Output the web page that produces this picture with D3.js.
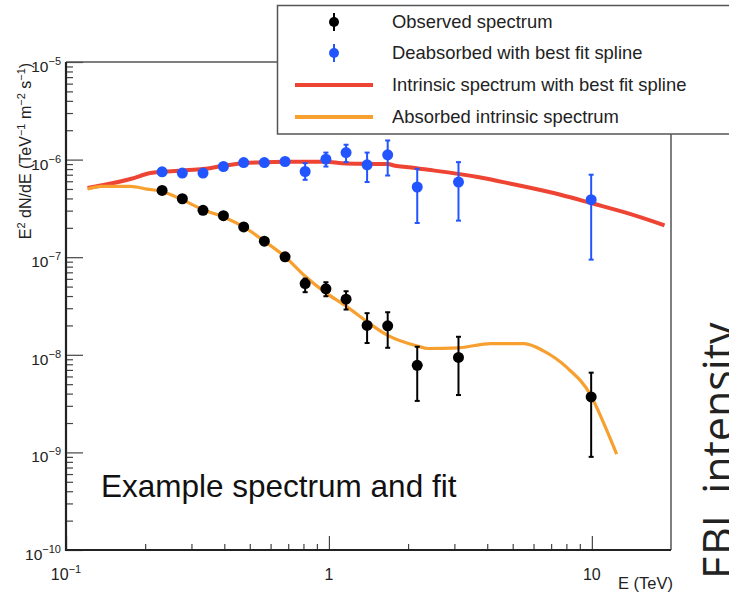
<!DOCTYPE html>
<html><head><meta charset="utf-8">
<script src="https://cdn.jsdelivr.net/npm/d3@7"></script>
<style>body{margin:0;background:#fff;overflow:hidden}svg{display:block;font-family:"Liberation Sans",Arial,sans-serif}</style>
</head><body><svg id="c" width="729" height="597"></svg>
<script>
// ---- data ----
const energies = [0.232,0.277,0.332,0.397,0.474,0.568,0.681,0.812,0.974,1.162,1.397,1.673,2.167,3.11,9.94];
const observed = [4.83e-7,3.97e-7,3.02e-7,2.66e-7,2.04e-7,1.46e-7,1.01e-7,5.37e-8,4.74e-8,3.71e-8,2.0e-8,1.98e-8,7.8e-9,9.4e-9,3.7e-9];
const observedLo = [4.6e-7,3.8e-7,2.9e-7,2.55e-7,1.95e-7,1.4e-7,0.97e-7,4.38e-8,3.98e-8,2.91e-8,1.32e-8,1.18e-8,3.37e-9,3.87e-9,9.0e-10];
const observedHi = [5.1e-7,4.15e-7,3.15e-7,2.78e-7,2.13e-7,1.52e-7,1.05e-7,6.04e-8,5.54e-8,4.48e-8,2.67e-8,2.73e-8,1.21e-8,1.53e-8,6.56e-9];
const deabsorbed = [7.5e-7,7.28e-7,7.28e-7,8.5e-7,9.33e-7,9.33e-7,9.56e-7,7.55e-7,1.01e-6,1.18e-6,8.85e-7,1.12e-6,5.24e-7,5.89e-7,3.88e-7];
const deabsorbedLo = [7.1e-7,6.9e-7,6.9e-7,8.1e-7,8.9e-7,8.9e-7,9.1e-7,6.21e-7,8.49e-7,9.42e-7,5.89e-7,6.87e-7,2.24e-7,2.37e-7,9.44e-8];
const deabsorbedHi = [7.9e-7,7.7e-7,7.7e-7,8.9e-7,9.8e-7,9.8e-7,1.0e-6,9.2e-7,1.18e-6,1.42e-6,1.18e-6,1.57e-6,8.05e-7,9.42e-7,7.0e-7];
const intrinsicE = [0.1208,0.1759,0.2094,0.2317,0.277,0.332,0.397,0.474,0.568,0.681,0.812,0.974,1.122,1.40,1.674,1.785,2.004,2.385,3.68,4.92,7.60,10.15,13.56,18.9];
const intrinsicY = [5.11e-7,6.32e-7,7.28e-7,7.5e-7,7.74e-7,8.0e-7,8.65e-7,9.2e-7,9.42e-7,9.5e-7,9.5e-7,9.5e-7,9.2e-7,9.06e-7,9.0e-7,8.65e-7,8.37e-7,7.87e-7,6.62e-7,5.66e-7,4.37e-7,3.53e-7,2.84e-7,2.12e-7];
const absorbedE = [0.1208,0.1355,0.1759,0.2033,0.2317,0.277,0.332,0.397,0.474,0.568,0.681,0.812,0.974,1.162,1.40,1.674,2.167,2.385,3.11,4.13,5.53,6.57,8.05,9.94,11.07,12.43];
const absorbedY = [4.99e-7,5.31e-7,5.31e-7,4.99e-7,4.72e-7,3.88e-7,3.07e-7,2.58e-7,2.04e-7,1.46e-7,1.01e-7,6.38e-8,4.31e-8,3.15e-8,2.17e-8,1.58e-8,1.23e-8,1.16e-8,1.18e-8,1.3e-8,1.3e-8,1.09e-8,7.38e-9,3.79e-9,2.02e-9,9.6e-10];
const yMajorTicks = [1e-10,1e-9,1e-8,1e-7,1e-6,1e-5];
const yExponents = ["−10","−9","−8","−7","−6","−5"];
const xMajorTicks = [0.1,1,10];
const xTickBase = ["10","1","10"];
const xTickExp = ["−1","",""];
const legendLabels = ["Observed spectrum","Deabsorbed with best fit spline","Intrinsic spectrum with best fit spline","Absorbed intrinsic spectrum"];

// ---- layout ----
const L=66,R=671,T=62,B=550;
const x=d3.scaleLog().domain([0.1,20]).range([L,R]);
const y=d3.scaleLog().domain([1e-10,1e-5]).range([B,T]);
const svg=d3.select("#c");
const C={red:"#ee4433",orange:"#f7a030",blue:"#2255ff",black:"#000"};

// minor ticks
const yMinor=[];for(let e=-10;e<-5;e++)for(let k=2;k<=9;k++)yMinor.push(k*Math.pow(10,e));
const xMinor=[];for(let e=-1;e<2;e++)for(let k=2;k<=9;k++){const v=k*Math.pow(10,e);if(v<20)xMinor.push(v);}

const gy=svg.append("g").attr("transform",`translate(${L},0)`);
gy.append("g").call(d3.axisLeft(y).tickValues(yMinor).tickSize(-7).tickFormat(""));
gy.append("g").call(d3.axisLeft(y).tickValues(yMajorTicks).tickSize(-17).tickFormat(""));
gy.selectAll(".domain").remove();
gy.selectAll(".tick line").attr("stroke","#444").attr("stroke-width",1.2);
const gx=svg.append("g").attr("transform",`translate(0,${B})`);
gx.append("g").call(d3.axisBottom(x).tickValues(xMinor).tickSize(-6).tickFormat(""));
gx.append("g").call(d3.axisBottom(x).tickValues(xMajorTicks).tickSize(-14).tickFormat(""));
gx.selectAll(".domain").remove();
gx.selectAll(".tick line").attr("stroke","#444").attr("stroke-width",1.2);

// frame
svg.append("line").attr("x1",L).attr("x2",R).attr("y1",T).attr("y2",T).attr("stroke","#555").attr("stroke-width",1.5);
svg.append("line").attr("x1",R).attr("x2",R).attr("y1",T).attr("y2",B).attr("stroke","#555").attr("stroke-width",1.5);
svg.append("line").attr("x1",L).attr("x2",L).attr("y1",T).attr("y2",B+1).attr("stroke","#222").attr("stroke-width",2.2);
svg.append("line").attr("x1",L-1).attr("x2",R).attr("y1",B).attr("y2",B).attr("stroke","#222").attr("stroke-width",2.2);

// y tick labels
yMajorTicks.forEach((v,i)=>{
  const t=svg.append("text").attr("x",61).attr("y",y(v)+10).attr("text-anchor","end").attr("font-size",15.5).attr("fill","#222");
  t.append("tspan").text("10");
  t.append("tspan").attr("dy",-7).attr("font-size",11).text(yExponents[i]);
});
xMajorTicks.forEach((v,i)=>{
  const t=svg.append("text").attr("x",x(v)).attr("y",580).attr("text-anchor","middle").attr("font-size",16).attr("fill","#222");
  t.append("tspan").text(xTickBase[i]);
  if(xTickExp[i]) t.append("tspan").attr("dy",-7).attr("font-size",11).text(xTickExp[i]);
});
svg.append("text").attr("x",673).attr("y",589).attr("text-anchor","end").attr("font-size",16.5).attr("fill","#222").text("E (TeV)");

// y title
const yt=svg.append("text").attr("transform","translate(31,151) rotate(-90)").attr("text-anchor","middle").attr("font-size",16).attr("fill","#222");
yt.append("tspan").text("E");
yt.append("tspan").attr("dy",-6).attr("font-size",11).text("2");
yt.append("tspan").attr("dy",6).text(" dN/dE (TeV");
yt.append("tspan").attr("dy",-6).attr("font-size",11).text("−1");
yt.append("tspan").attr("dy",6).text(" m");
yt.append("tspan").attr("dy",-6).attr("font-size",11).text("−2");
yt.append("tspan").attr("dy",6).text(" s");
yt.append("tspan").attr("dy",-6).attr("font-size",11).text("−1");
yt.append("tspan").attr("dy",6).text(")");

// curves
const line=d3.line().x(d=>x(d[0])).y(d=>y(d[1])).curve(d3.curveMonotoneX);
svg.append("path").attr("d",line(intrinsicE.map((e,i)=>[e,intrinsicY[i]]))).attr("fill","none").attr("stroke",C.red).attr("stroke-width",4);
svg.append("path").attr("d",line(absorbedE.map((e,i)=>[e,absorbedY[i]]))).attr("fill","none").attr("stroke",C.orange).attr("stroke-width",3.2);

// points with error bars
function points(vals,lo,hi,col){
  const g=svg.append("g");
  energies.forEach((e,i)=>{
    const cx=x(e);
    g.append("line").attr("x1",cx).attr("x2",cx).attr("y1",y(lo[i])).attr("y2",y(hi[i])).attr("stroke",col).attr("stroke-width",2);
    [lo[i],hi[i]].forEach(v=>g.append("line").attr("x1",cx-2.5).attr("x2",cx+2.5).attr("y1",y(v)).attr("y2",y(v)).attr("stroke",col).attr("stroke-width",2));
    g.append("circle").attr("cx",cx).attr("cy",y(vals[i])).attr("r",5.5).attr("fill",col);
  });
}
points(deabsorbed,deabsorbedLo,deabsorbedHi,C.blue);
points(observed,observedLo,observedHi,C.black);

// annotation
svg.append("text").attr("x",101).attr("y",497).attr("font-size",31.5).attr("fill","#111").text("Example spectrum and fit");
svg.append("text").attr("transform","translate(734,579) rotate(-90)").attr("font-size",43).attr("font-family","Open Sans, sans-serif").attr("fill","#222").text("EBL intensity");

// legend
const lg=svg.append("g");
lg.append("rect").attr("x",277.5).attr("y",5.5).attr("width",470).attr("height",128.5).attr("fill","#fff").attr("stroke","#555").attr("stroke-width",1.5);
const rows=[22,53,85,117];
legendLabels.forEach((s,i)=>{
  lg.append("text").attr("x",392).attr("y",rows[i]+6).attr("font-size",18.4).attr("fill","#222").text(s);
});
[[C.black,0],[C.blue,1]].forEach(([col,i])=>{
  lg.append("line").attr("x1",334).attr("x2",334).attr("y1",rows[i]-9).attr("y2",rows[i]+9).attr("stroke",col).attr("stroke-width",2);
  lg.append("circle").attr("cx",334).attr("cy",rows[i]).attr("r",5).attr("fill",col);
});
[[C.red,2],[C.orange,3]].forEach(([col,i])=>{
  lg.append("line").attr("x1",295).attr("x2",373).attr("y1",rows[i]).attr("y2",rows[i]).attr("stroke",col).attr("stroke-width",4);
});
</script></body></html>
